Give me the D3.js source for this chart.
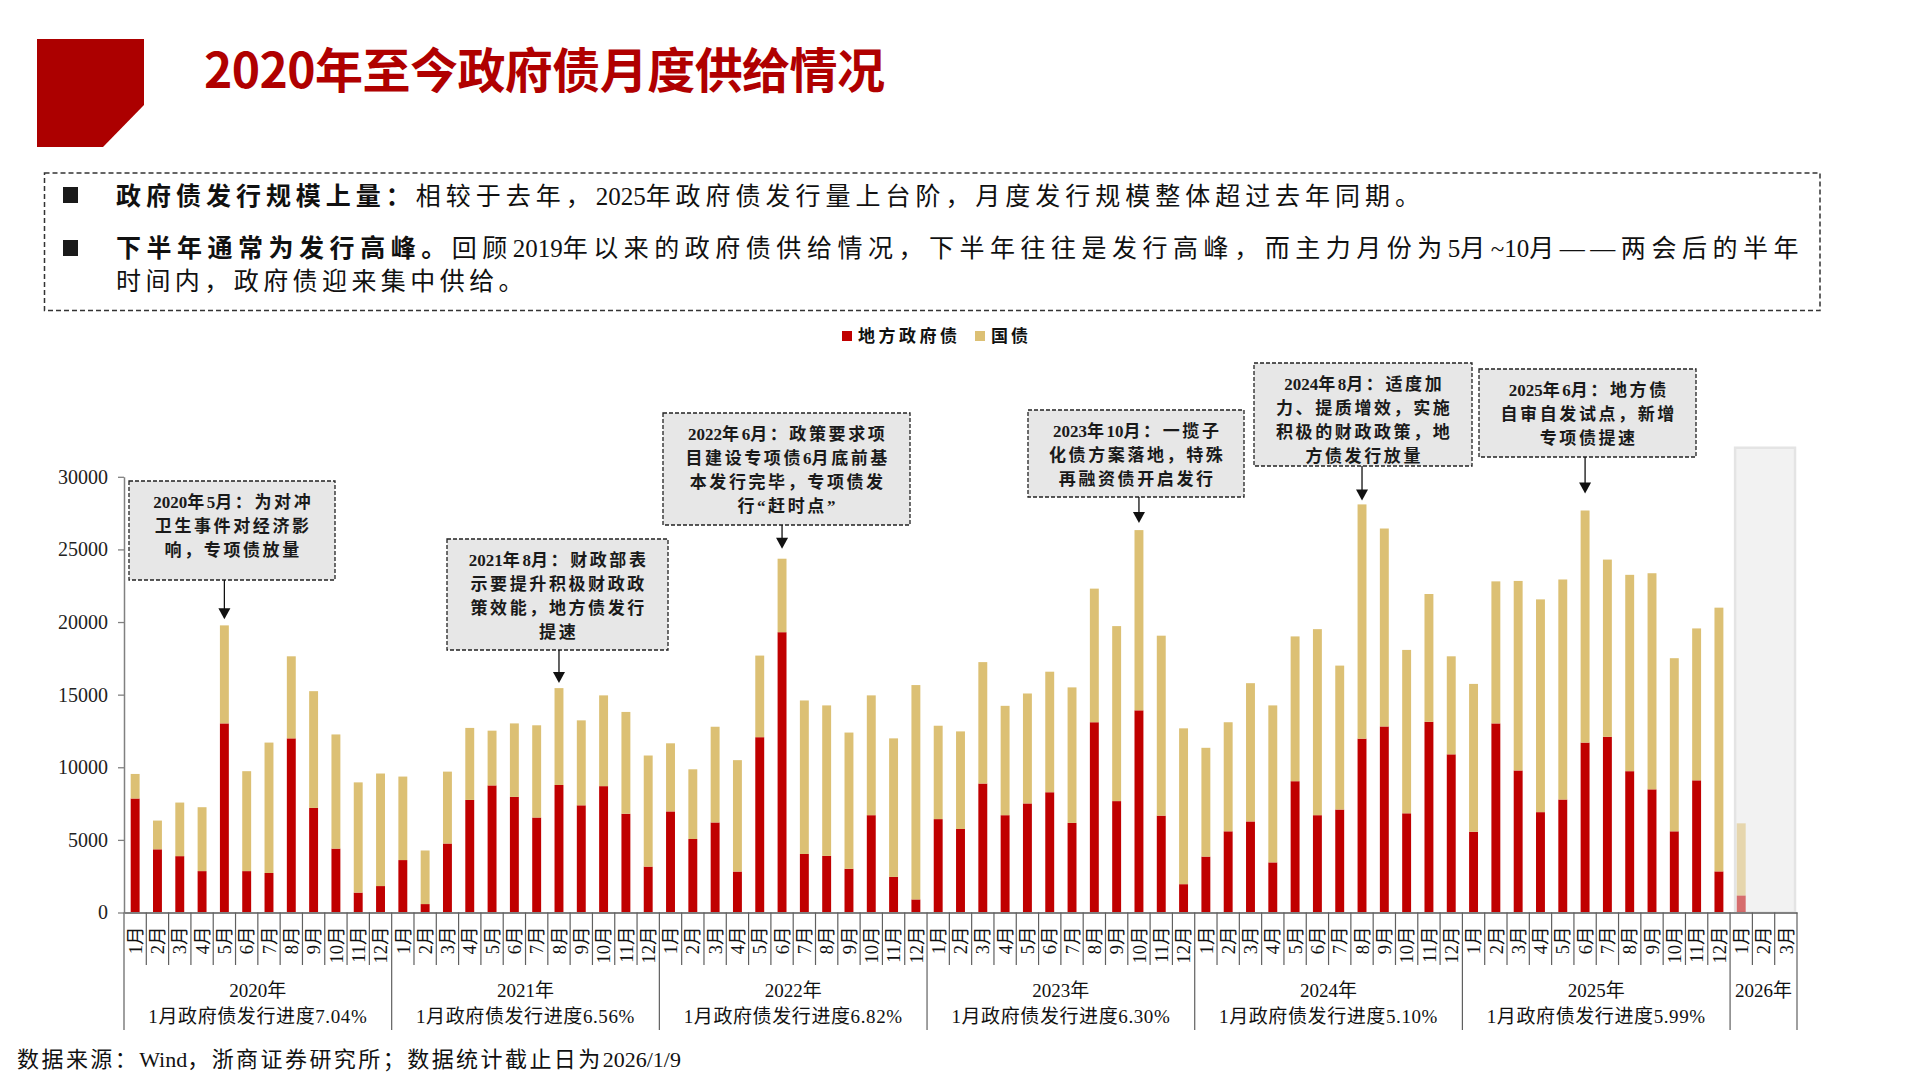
<!DOCTYPE html>
<html>
<head>
<meta charset="utf-8">
<script src="https://cdn.jsdelivr.net/npm/d3@7"></script>
<style>
body { margin: 0; background: #fff; }
svg { display: block; }
</style>
</head>
<body>
<script>
// values, 亿元
const years = ['2020年', '2021年', '2022年', '2023年', '2024年', '2025年', '2026年'];
const monthsPerYear = [12, 12, 12, 12, 12, 12, 3];
const progress = ['1月政府债发行进度7.04%', '1月政府债发行进度6.56%', '1月政府债发行进度6.82%',
    '1月政府债发行进度6.30%', '1月政府债发行进度5.10%', '1月政府债发行进度5.99%', ''];
const seriesNames = ['地方政府债', '国债'];

const localDebt = [
    7850, 4350, 3880, 2850, 13020, 2850, 2720, 11990, 7200, 4400, 1370, 1820,
    3610, 580, 4750, 7750, 8750, 7960, 6540, 8780, 7380, 8700, 6800, 3160,
    6960, 5060, 6200, 2820, 12070, 19300, 4030, 3900, 3010, 6700, 2450, 900,
    6430, 5750, 8880, 6700, 7510, 8280, 6170, 13100, 7670, 13920, 6670, 1950,
    3850, 5590, 6270, 3450, 9040, 6700, 7090, 11970, 12810, 6830, 13130, 10890,
    5560, 13020, 9780, 6910, 7780, 11700, 12100, 9730, 8480, 5590, 9100, 2830,
    1170, null, null
];
const treasury = [
    1690, 1980, 3690, 4400, 6750, 6880, 8980, 5650, 8040, 7860, 7590, 7750,
    5750, 3690, 4950, 4960, 3770, 5060, 6350, 6670, 5850, 6250, 7010, 7650,
    4690, 4800, 6590, 7670, 5620, 5060, 10570, 10360, 9380, 8250, 9540, 14760,
    6430, 6720, 8360, 7530, 7570, 8300, 9330, 9200, 12050, 12410, 12390, 10730,
    7490, 7510, 9520, 10810, 9970, 12810, 9910, 16130, 13630, 11250, 8800, 6750,
    10180, 9780, 13050, 14650, 15150, 15980, 12200, 13520, 14880, 11920, 10460, 18160,
    4970, null, null
];
const yTicks = [0, 5000, 10000, 15000, 20000, 25000, 30000];

// callouts: category index + text lines
const notes = [
    { idx: 4, lines: ['2020年5月：为对冲', '卫生事件对经济影', '响，专项债放量'] },
    { idx: 19, lines: ['2021年8月：财政部表', '示要提升积极财政政', '策效能，地方债发行', '提速'] },
    { idx: 29, lines: ['2022年6月：政策要求项', '目建设专项债6月底前基', '本发行完毕，专项债发', '行“赶时点”'] },
    { idx: 45, lines: ['2023年10月：一揽子', '化债方案落地，特殊', '再融资债开启发行'] },
    { idx: 55, lines: ['2024年8月：适度加', '力、提质增效，实施', '积极的财政政策，地', '方债发行放量'] },
    { idx: 65, lines: ['2025年6月：地方债', '自审自发试点，新增', '专项债提速'] }
];
// callout box geometry (px) and arrow gap above the bar
const noteBoxes = [
    { x: 129, y: 481, w: 206, h: 99, gap: 6 },
    { x: 447, y: 539, w: 221, h: 111, gap: 5 },
    { x: 663, y: 413, w: 247, h: 112, gap: 10 },
    { x: 1028, y: 410, w: 216, h: 87, gap: 7 },
    { x: 1254, y: 363, w: 218, h: 103, gap: 4 },
    { x: 1479, y: 369, w: 217, h: 88, gap: 17 }
];

const colors = ['#C00000', '#DCC074'];
const serif = "'Liberation Serif','Noto Sans CJK SC',serif";
const sans = "'Noto Sans CJK SC',sans-serif";

// split a string into CJK / latin runs so only CJK glyphs get extra spacing
const cjkRe = /[\u3000-\u303f\u4e00-\u9fff\uff00-\uffef\u2014\u201c\u201d]/;
function splitRuns(str) {
    const out = [];
    for (const ch of str) {
        const c = cjkRe.test(ch);
        if (out.length && out[out.length - 1].cjk === c) out[out.length - 1].t += ch;
        else out.push({ t: ch, cjk: c });
    }
    return out;
}
function richText(t, parts, opts) {
    const spans = [];
    parts.forEach(p => splitRuns(p.text).forEach(r => {
        const s = t.append('tspan').text(r.t);
        if (p.bold) s.attr('font-weight', 700);
        if (r.cjk) spans.push({ s, n: [...r.t].length });
    }));
    let ls = opts.spacing || 0;
    if (opts.width) {
        const natural = t.node().getComputedTextLength();
        ls = (opts.width - natural) / d3.sum(spans, d => d.n);
    }
    spans.forEach(d => d.s.attr('letter-spacing', ls));
    return t;
}

// categories
const cats = [];
years.forEach((yr, yi) => {
    for (let m = 1; m <= monthsPerYear[yi]; m++) cats.push({ key: yr + m, label: m + '月', yi });
});
const rows = cats.map((c, i) => ({ key: c.key, i, local: localDebt[i], treas: treasury[i] }));

const svg = d3.select('body').append('svg').attr('width', 1920).attr('height', 1080);

// header
svg.append('path').attr('d', 'M37,39H144V105L103,147H37Z').attr('fill', '#AC0000');
svg.append('text').attr('x', 204).attr('y', 88)
    .attr('font-family', sans).attr('font-weight', 700).attr('font-size', 48)
    .attr('fill', '#B00000').attr('textLength', 681).attr('lengthAdjust', 'spacing')
    .text('2020年至今政府债月度供给情况');

svg.append('rect').attr('x', 44.5).attr('y', 173).attr('width', 1775.5).attr('height', 137.5)
    .attr('fill', 'none').attr('stroke', '#333').attr('stroke-width', 1.5).attr('stroke-dasharray', '5,3');
svg.append('rect').attr('x', 63).attr('y', 187).attr('width', 15).attr('height', 16).attr('fill', '#1a1a1a');
svg.append('rect').attr('x', 63).attr('y', 240).attr('width', 15).attr('height', 16).attr('fill', '#1a1a1a');

const bodyLines = [
    { y: 205, len: 1309, bold: '政府债发行规模上量：', rest: '相较于去年，2025年政府债发行量上台阶，月度发行规模整体超过去年同期。' },
    { y: 257, len: 1688, bold: '下半年通常为发行高峰。', rest: '回顾2019年以来的政府债供给情况，下半年往往是发行高峰，而主力月份为5月~10月——两会后的半年' },
    { y: 290, len: 412, bold: '', rest: '时间内，政府债迎来集中供给。' }
];
bodyLines.forEach(l => {
    const t = svg.append('text').attr('x', 116).attr('y', l.y)
        .attr('font-family', serif).attr('font-size', 25).attr('fill', '#111');
    richText(t, [{ text: l.bold, bold: true }, { text: l.rest }], { width: l.len });
});

// legend
const legendPos = [[842, 858, 99], [975, 991, 37]];
seriesNames.forEach((n, i) => {
    svg.append('rect').attr('x', legendPos[i][0]).attr('y', 331).attr('width', 10).attr('height', 10).attr('fill', colors[i]);
    svg.append('text').attr('x', legendPos[i][1]).attr('y', 342)
        .attr('font-family', serif).attr('font-weight', 700).attr('font-size', 17).attr('fill', '#111')
        .attr('textLength', legendPos[i][2]).attr('lengthAdjust', 'spacing').text(n);
});

// scales
const x = d3.scaleBand().domain(cats.map(c => c.key)).range([124, 1797]).paddingInner(0.6).paddingOuter(0.3);
const y = d3.scaleLinear().domain([0, 30000]).range([912.5, 476.8]);
const step = x.step();
const x0 = x.range()[0];
const edge = k => x0 + k * step;

// 2026 shaded zone
const startIdx = d3.cumsum(monthsPerYear);
const lastStart = startIdx[startIdx.length - 2];
svg.append('rect').attr('x', edge(lastStart) + 5).attr('y', y(32000))
    .attr('width', edge(cats.length) - edge(lastStart) - 7).attr('height', y(0) - y(32000))
    .attr('fill', '#F2F2F2').attr('stroke', '#E4E4E4').attr('stroke-width', 2.5);

// bars
const series = d3.stack().keys(['local', 'treas']).value((d, k) => d[k] ?? 0)(rows);
svg.append('g').selectAll('g').data(series).join('g').attr('fill', (d, i) => colors[i])
    .selectAll('rect').data(d => d.filter(p => p.data.local != null)).join('rect')
    .attr('x', p => x(p.data.key)).attr('width', x.bandwidth())
    .attr('y', p => y(p[1])).attr('height', p => y(p[0]) - y(p[1]))
    .attr('opacity', p => p.data.i >= lastStart ? 0.55 : 1);

// y axis
const yAxisG = svg.append('g').attr('transform', `translate(${x0},0)`)
    .call(d3.axisLeft(y).tickValues(yTicks).tickSize(6).tickSizeOuter(0).tickPadding(10).tickFormat(d3.format('d')));
yAxisG.select('.domain').attr('stroke', '#808080').attr('stroke-width', 1.5);
yAxisG.selectAll('.tick line').attr('stroke', '#808080').attr('stroke-width', 1.3);
yAxisG.selectAll('.tick text').attr('font-family', serif).attr('font-size', 20).attr('fill', '#222');

// x axis with month labels
const xAxisG = svg.append('g').attr('transform', `translate(0,${y(0)})`)
    .call(d3.axisBottom(x).tickSize(0).tickSizeOuter(0).tickFormat((k, i) => cats[i].label));
xAxisG.select('.domain').attr('stroke', '#808080').attr('stroke-width', 2);
xAxisG.selectAll('.tick text')
    .attr('transform', 'rotate(-90)').attr('x', -14).attr('y', 0).attr('dy', '0.36em')
    .style('text-anchor', 'end')
    .attr('font-family', serif).attr('font-size', 18.5).attr('fill', '#111');

// separators
const yearEdges = new Set([0, ...startIdx]);
svg.append('g').selectAll('line').data(d3.range(cats.length + 1)).join('line')
    .attr('x1', k => edge(k)).attr('x2', k => edge(k))
    .attr('y1', y(0)).attr('y2', k => yearEdges.has(k) ? 1030 : 965)
    .attr('stroke', '#606060').attr('stroke-width', 1.2);

// year labels
years.forEach((yr, yi) => {
    const a = edge(yi === 0 ? 0 : startIdx[yi - 1]);
    const b = edge(startIdx[yi]);
    const cx = (a + b) / 2;
    svg.append('text').attr('x', cx).attr('y', 997).attr('text-anchor', 'middle')
        .attr('font-family', serif).attr('font-size', 19).attr('fill', '#111').text(yr);
    if (progress[yi]) {
        svg.append('text').attr('x', cx).attr('y', 1023).attr('text-anchor', 'middle')
            .attr('font-family', serif).attr('font-size', 19).attr('fill', '#111')
            .attr('letter-spacing', 0.6).text(progress[yi]);
    }
});

// callouts
notes.forEach((n, i) => {
    const b = noteBoxes[i];
    const g = svg.append('g');
    g.append('rect').attr('x', b.x).attr('y', b.y).attr('width', b.w).attr('height', b.h)
        .attr('fill', '#E7E7E7').attr('stroke', '#222').attr('stroke-width', 1.3).attr('stroke-dasharray', '4,2');
    n.lines.forEach((l, j) => {
        const t = g.append('text').attr('x', b.x + b.w / 2 + 1.2).attr('y', b.y + 26.5 + j * 24.3)
            .attr('text-anchor', 'middle').attr('font-family', serif).attr('font-weight', 700)
            .attr('font-size', 17).attr('fill', '#1a1a1a');
        richText(t, [{ text: l }], { spacing: 2.6 });
    });
    const ax = x(cats[n.idx].key) + x.bandwidth() / 2;
    const tip = y(localDebt[n.idx] + treasury[n.idx]) - b.gap;
    g.append('line').attr('x1', ax).attr('x2', ax).attr('y1', b.y + b.h).attr('y2', tip - 10)
        .attr('stroke', '#111').attr('stroke-width', 1.3);
    g.append('path').attr('d', `M${ax - 6},${tip - 11}L${ax + 6},${tip - 11}L${ax},${tip}Z`).attr('fill', '#111');
});

// source
const src = svg.append('text').attr('x', 17).attr('y', 1067)
    .attr('font-family', serif).attr('font-size', 22).attr('fill', '#111');
richText(src, [{ text: '数据来源：Wind，浙商证券研究所；数据统计截止日为2026/1/9' }], { width: 664 });
</script>
</body>
</html>
